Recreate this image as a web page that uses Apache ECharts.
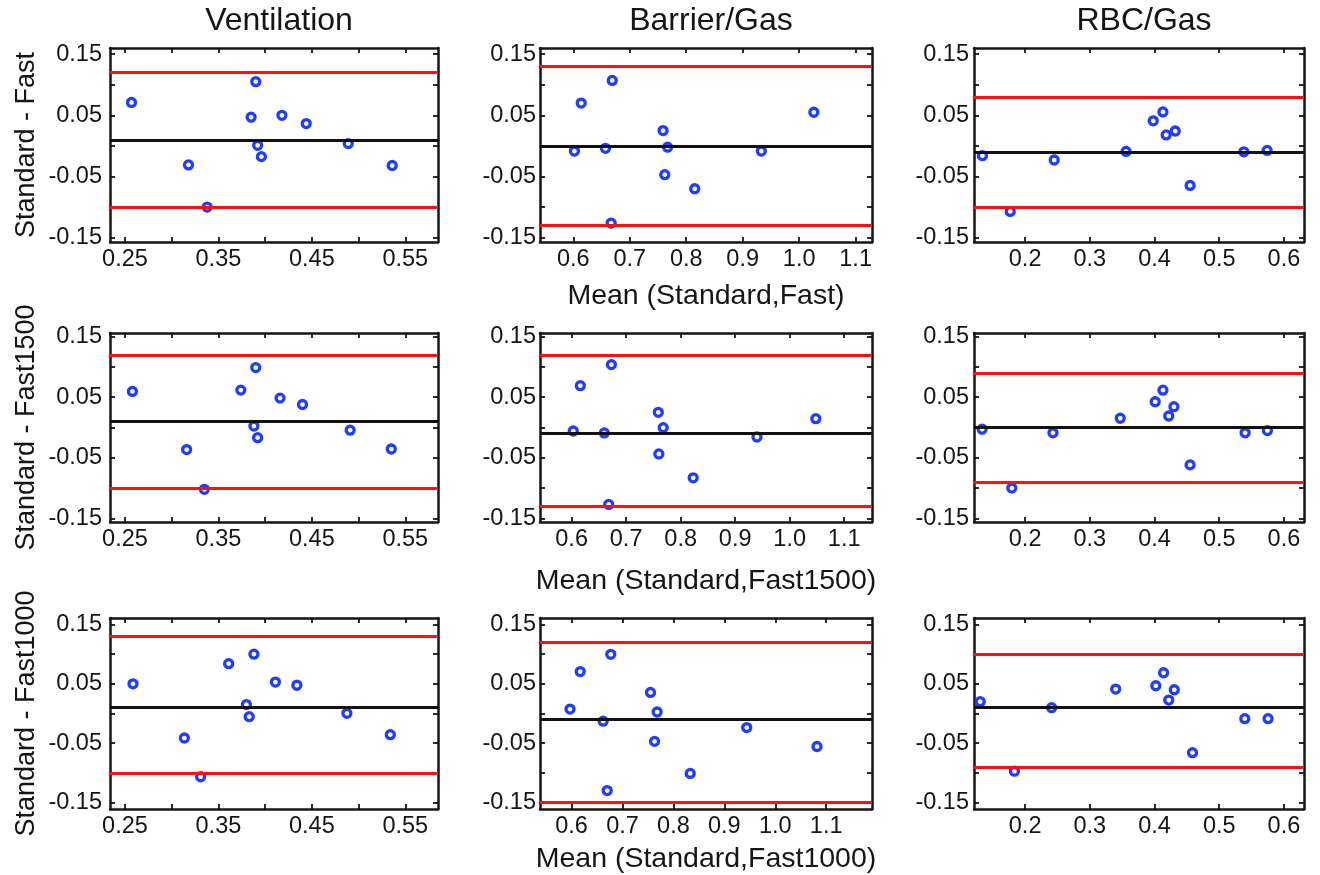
<!DOCTYPE html>
<html lang="en">
<head>
    <meta charset="UTF-8">
    <title>Bland-Altman | Standard vs Fast</title>
    <script src="https://cdn.jsdelivr.net/npm/echarts@6.0.0/dist/echarts.min.js"></script>
    <style>
        html, body { margin: 0; padding: 0; background: #fff; }
        #main { width: 1320px; height: 875px; }
    </style>
</head>
<body>
<div id="main"></div>
<script type="text/javascript">
    // text
    const colTitles = ['Ventilation', 'Barrier/Gas', 'RBC/Gas']
    const rowNames = ['Standard - Fast', 'Standard - Fast1500', 'Standard - Fast1000']
    const meanNames = ['Mean (Standard,Fast)', 'Mean (Standard,Fast1500)', 'Mean (Standard,Fast1000)']

    // ticks
    const ventTicks = [0.25, 0.30, 0.35, 0.40, 0.45, 0.50, 0.55]
    const ventLabels = [0.25, 0.35, 0.45, 0.55]
    const barrierTicks = [0.6, 0.7, 0.8, 0.9, 1.0, 1.1]
    const rbcTicks = [0.2, 0.3, 0.4, 0.5, 0.6]
    const diffTicks = [-0.15, -0.10, -0.05, 0, 0.05, 0.10, 0.15]
    const diffLabels = [-0.15, -0.05, 0.05, 0.15]

    // axis limits
    const ventRange = [0.234, 0.585]
    const rbcRange = [0.121, 0.631]
    const barrierRanges = [[0.541, 1.129], [0.542, 1.151], [0.538, 1.19]]
    const diffRanges = [[-0.157, 0.16], [-0.156, 0.156], [-0.161, 0.161]]

    // row 1: Standard - Fast
    const ventFastX = [0.257, 0.390, 0.385, 0.418, 0.444, 0.392, 0.396, 0.489, 0.318, 0.338, 0.536]
    const ventFastY = [0.071, 0.105, 0.047, 0.050, 0.0365, 0.001, -0.0175, 0.0038, -0.031, -0.100, -0.032]
    const ventFastLoA = [0.124, 0.0136, -0.100]
    const barrierFastX = [0.602, 0.614, 0.669, 0.657, 0.667, 0.759, 0.767, 0.762, 0.815, 0.933, 1.026]
    const barrierFastY = [-0.0085, 0.070, 0.107, -0.004, -0.126, 0.025, -0.002, -0.047, -0.070, -0.0085, 0.055]
    const barrierFastLoA = [0.129, 0.0, -0.129]
    const rbcFastX = [0.134, 0.177, 0.245, 0.356, 0.398, 0.413, 0.418, 0.432, 0.455, 0.538, 0.574]
    const rbcFastY = [-0.016, -0.107, -0.023, -0.009, 0.041, 0.0556, 0.018, 0.0244, -0.0645, -0.0096, -0.0074]
    const rbcFastLoA = [0.0814, -0.009, -0.0985]

    // row 2: Standard - Fast1500
    const vent1500X = [0.258, 0.390, 0.374, 0.416, 0.440, 0.388, 0.392, 0.491, 0.316, 0.335, 0.535]
    const vent1500Y = [0.0595, 0.099, 0.0617, 0.0485, 0.038, 0.0024, -0.0168, -0.0044, -0.0365, -0.102, -0.0355]
    const vent1500LoA = [0.1237, 0.0123, -0.102]
    const barrier1500X = [0.603, 0.616, 0.673, 0.660, 0.668, 0.759, 0.768, 0.760, 0.823, 0.940, 1.048]
    const barrier1500Y = [-0.0058, 0.069, 0.1038, -0.009, -0.127, 0.025, -0.0002, -0.0437, -0.083, -0.0157, 0.0146]
    const barrier1500LoA = [0.1197, -0.0058, -0.132]
    const rbc1500X = [0.1336, 0.1794, 0.243, 0.347, 0.401, 0.413, 0.422, 0.430, 0.455, 0.540, 0.5745]
    const rbc1500Y = [-0.0028, -0.100, -0.0088, 0.0153, 0.0425, 0.0616, 0.019, 0.0343, -0.0617, -0.0088, -0.005]
    const rbc1500LoA = [0.090, 0.0, -0.091]

    // row 3: Standard - Fast1000
    const vent1000X = [0.2586, 0.361, 0.388, 0.411, 0.434, 0.380, 0.383, 0.4875, 0.3136, 0.331, 0.534]
    const vent1000Y = [0.050, 0.084, 0.100, 0.053, 0.0476, 0.015, -0.0053, 0.0003, -0.0413, -0.1066, -0.0357]
    const vent1000LoA = [0.133, 0.015, -0.103]
    const barrier1000X = [0.597, 0.617, 0.677, 0.662, 0.670, 0.755, 0.768, 0.763, 0.833, 0.944, 1.082]
    const barrier1000Y = [0.0075, 0.0707, 0.0997, -0.013, -0.130, 0.0355, 0.0025, -0.047, -0.101, -0.0237, -0.0556]
    const barrier1000LoA = [0.121, -0.0137, -0.148]
    const rbc1000X = [0.1306, 0.1835, 0.241, 0.340, 0.402, 0.414, 0.422, 0.4305, 0.4587, 0.5395, 0.5755]
    const rbc1000Y = [0.020, -0.0973, 0.0098, 0.0412, 0.0468, 0.0687, 0.0227, 0.040, -0.066, -0.0087, -0.0087]
    const rbc1000LoA = [0.1035, 0.007, -0.090]

    // layout (px)
    const colLeft = [110, 540, 974]
    const colWidth = [328, 332, 330]
    const rowTop = [48, 333, 618]
    const rowHeight = [194, 189, 191]
    const meanGap = [40, 45, 36]

    const font = 'Liberation Sans, Arial, sans-serif'
    const ink = '#151515'
    const blue = '#1f3dff'
    const red = '#ff1010'

    const panels = [
        [ventFastX, ventFastY, ventFastLoA], [barrierFastX, barrierFastY, barrierFastLoA], [rbcFastX, rbcFastY, rbcFastLoA],
        [vent1500X, vent1500Y, vent1500LoA], [barrier1500X, barrier1500Y, barrier1500LoA], [rbc1500X, rbc1500Y, rbc1500LoA],
        [vent1000X, vent1000Y, vent1000LoA], [barrier1000X, barrier1000Y, barrier1000LoA], [rbc1000X, rbc1000Y, rbc1000LoA]
    ]

    let grids = [], xAxes = [], yAxes = [], series = []
    for (let r = 0; r < 3; r++) {
        for (let c = 0; c < 3; c++) {
            const k = r * 3 + c
            const [px, py, loa] = panels[k]
            let xr, xt, xl, xfmt
            if (c === 0) { xr = ventRange; xt = ventTicks; xl = ventLabels; xfmt = v => v.toFixed(2) }
            else if (c === 1) { xr = barrierRanges[r]; xt = barrierTicks; xl = barrierTicks; xfmt = v => v.toFixed(1) }
            else { xr = rbcRange; xt = rbcTicks; xl = rbcTicks; xfmt = v => v.toFixed(1) }
            const yr = diffRanges[r]

            grids.push({left: colLeft[c], top: rowTop[r], width: colWidth[c], height: rowHeight[r]})

            const line = {onZero: false, lineStyle: {color: ink, width: 2.5}}
            const tick = {color: ink, width: 1.8}
            const labelStyle = {color: ink, fontSize: 23.5, fontFamily: font}
            // bottom + top x axes (box)
            xAxes.push({
                gridIndex: k, type: 'value', position: 'bottom', min: xr[0], max: xr[1],
                axisLine: line, splitLine: {show: false},
                axisTick: {inside: true, length: 5, customValues: xt, lineStyle: tick},
                axisLabel: Object.assign({customValues: xl, formatter: xfmt, margin: 6}, labelStyle),
                name: c === 1 ? meanNames[r] : '', nameLocation: 'middle', nameGap: meanGap[r],
                nameTextStyle: {color: ink, fontSize: 28.5, fontFamily: font}
            })
            xAxes.push({
                gridIndex: k, type: 'value', position: 'top', min: xr[0], max: xr[1],
                axisLine: line, splitLine: {show: false}, axisLabel: {show: false},
                axisTick: {inside: true, length: 5, customValues: xt, lineStyle: tick}
            })
            // left + right y axes
            yAxes.push({
                gridIndex: k, type: 'value', position: 'left', min: yr[0], max: yr[1],
                axisLine: line, splitLine: {show: false},
                axisTick: {inside: true, length: 5, customValues: diffTicks, lineStyle: tick},
                axisLabel: Object.assign({customValues: diffLabels, formatter: v => v.toFixed(2), margin: [8, 4, 5][c]}, labelStyle),
                name: c === 0 ? rowNames[r] : '', nameLocation: 'middle', nameGap: 70,
                nameTextStyle: {color: ink, fontSize: 27, fontFamily: font}
            })
            yAxes.push({
                gridIndex: k, type: 'value', position: 'right', min: yr[0], max: yr[1],
                axisLine: line, splitLine: {show: false}, axisLabel: {show: false},
                axisTick: {inside: true, length: 5, customValues: diffTicks, lineStyle: tick}
            })

            series.push({
                type: 'scatter', xAxisIndex: 2 * k, yAxisIndex: 2 * k,
                data: px.map((v, i) => [v, py[i]]),
                symbol: 'circle', symbolSize: 8, z: 3,
                itemStyle: {color: '#fff', borderColor: blue, borderWidth: 3.3, opacity: 1},
                markLine: {
                    silent: true, symbol: ['none', 'none'], label: {show: false}, animation: false,
                    data: [
                        {yAxis: loa[0], lineStyle: {color: red, width: 3, type: 'solid'}},
                        {yAxis: loa[1], lineStyle: {color: '#111', width: 3, type: 'solid'}},
                        {yAxis: loa[2], lineStyle: {color: red, width: 3, type: 'solid'}}
                    ]
                }
            })
        }
    }

    let chart = echarts.init(document.getElementById('main'))
    chart.setOption({
        backgroundColor: '#fff',
        animation: false,
        title: colTitles.map((t, c) => ({
            text: t, left: colLeft[c] + colWidth[c] / 2, top: 0, textAlign: 'center',
            textStyle: {color: ink, fontSize: 32, fontWeight: 'normal', fontFamily: font}
        })),
        grid: grids,
        xAxis: xAxes,
        yAxis: yAxes,
        series: series
    })
</script>
</body>
</html>
